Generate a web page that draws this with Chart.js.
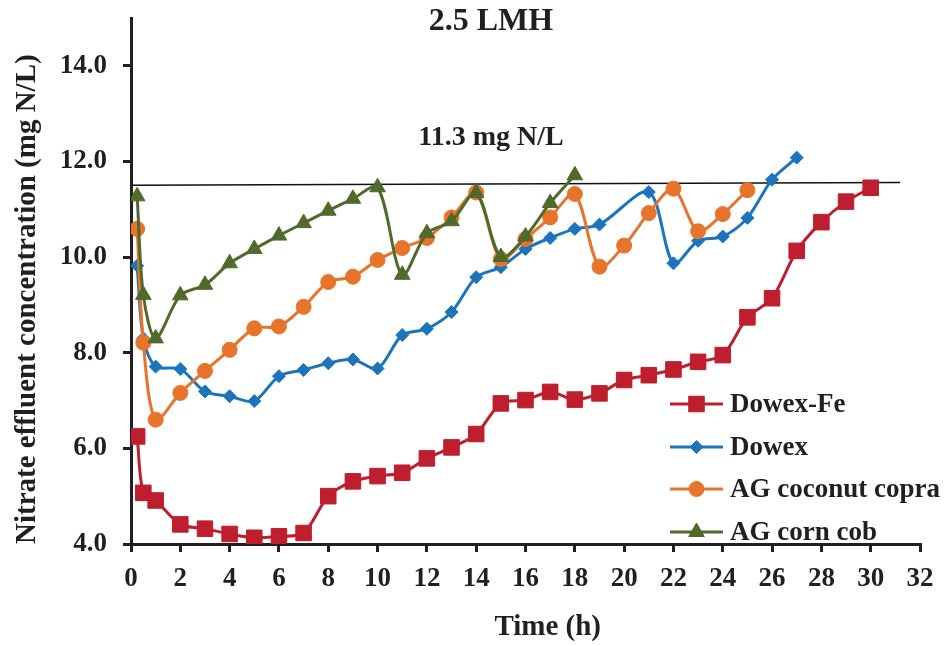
<!DOCTYPE html>
<html>
<head>
<meta charset="utf-8">
<title>2.5 LMH</title>
<script src="https://cdn.jsdelivr.net/npm/chart.js@4.4.1/dist/chart.umd.min.js"></script>
<style>
  html, body { margin: 0; padding: 0; background: #ffffff; }
  canvas { display: block; }
</style>
</head>
<body>
<canvas id="chart" width="949" height="646"></canvas>
<script>
// ---- Data (time in h, nitrate in mg N/L) ----
const timeDowexFe = [0.25, 0.5, 1, 2, 3, 4, 5, 6, 7, 8, 9, 10, 11, 12, 13, 14, 15, 16, 17, 18, 19, 20, 21, 22, 23, 24, 25, 26, 27, 28, 29, 30];
const dowexFe     = [6.25, 5.07, 4.91, 4.41, 4.32, 4.21, 4.13, 4.16, 4.23, 5.00, 5.31, 5.42, 5.49, 5.79, 6.02, 6.30, 6.94, 7.01, 7.18, 7.02, 7.15, 7.43, 7.53, 7.65, 7.81, 7.95, 8.74, 9.14, 10.13, 10.73, 11.16, 11.45];

const timeDowex = [0.25, 0.5, 1, 2, 3, 4, 5, 6, 7, 8, 9, 10, 11, 12, 13, 14, 15, 16, 17, 18, 19, 21, 22, 23, 24, 25, 26, 27];
const dowex     = [9.82, 8.30, 7.71, 7.66, 7.19, 7.09, 6.99, 7.51, 7.64, 7.78, 7.86, 7.67, 8.37, 8.50, 8.85, 9.58, 9.79, 10.17, 10.40, 10.59, 10.68, 11.36, 9.87, 10.34, 10.43, 10.82, 11.62, 12.08];

const timeCopra = [0.25, 0.5, 1, 2, 3, 4, 5, 6, 7, 8, 9, 10, 11, 12, 13, 14, 15, 16, 17, 18, 19, 20, 21, 22, 23, 24, 25];
const copra     = [10.59, 8.21, 6.60, 7.16, 7.62, 8.06, 8.51, 8.55, 8.96, 9.48, 9.59, 9.94, 10.19, 10.40, 10.83, 11.35, 9.96, 10.38, 10.83, 11.32, 9.80, 10.24, 10.92, 11.43, 10.54, 10.90, 11.40];

const timeCorn = [0.25, 0.5, 1, 2, 3, 4, 5, 6, 7, 8, 9, 10, 11, 12, 13, 14, 15, 16, 17, 18];
const cornCob  = [11.27, 9.21, 8.30, 9.20, 9.42, 9.87, 10.17, 10.45, 10.71, 10.97, 11.22, 11.46, 9.63, 10.50, 10.75, 11.34, 10.00, 10.43, 11.13, 11.71];

// Limit line endpoints
const limitX = [0, 31.2];
const limitY = [11.50, 11.56];

// Axis ticks and texts
const xTickValues = [0, 2, 4, 6, 8, 10, 12, 14, 16, 18, 20, 22, 24, 26, 28, 30, 32];
const yTickValues = [4, 6, 8, 10, 12, 14];
const chartTitle = '2.5 LMH';
const limitLabel = '11.3 mg N/L';
const xAxisTitle = 'Time (h)';
const yAxisTitle = 'Nitrate effluent concentration (mg N/L)';

// ---- Styling ----
const INK = '#231f20';
const SERIF = '"Liberation Serif", "Times New Roman", Times, serif';
const RED = '#be1e2d';
const BLUE = '#1c75bc';
const ORANGE = '#e8732a';
const GREEN = '#4f6a2b';

const toPoints = (xs, ys) => xs.map((x, i) => ({ x: x, y: ys[i] }));

Chart.defaults.font.family = SERIF;
Chart.defaults.font.weight = 'bold';
Chart.defaults.color = INK;

function series(label, xs, ys, color, style, radius, order) {
  return {
    label: label,
    data: toPoints(xs, ys),
    borderColor: color,
    backgroundColor: color,
    pointBackgroundColor: color,
    pointBorderColor: color,
    pointBorderWidth: 1,
    pointStyle: style,
    pointRadius: radius,
    pointHoverRadius: radius,
    borderWidth: 3,
    tension: 0.3,
    fill: false,
    order: order
  };
}

const datasets = [
  series('Dowex-Fe', timeDowexFe, dowexFe, RED, 'rect', 11, 3),
  series('Dowex', timeDowex, dowex, BLUE, 'rectRot', 6.5, 2),
  series('AG coconut copra', timeCopra, copra, ORANGE, 'circle', 7.5, 1),
  series('AG corn cob', timeCorn, cornCob, GREEN, 'triangle', 9, 0),
  {
    label: 'limit',
    data: toPoints(limitX, limitY),
    borderColor: '#111111',
    borderWidth: 1.5,
    pointRadius: 0,
    tension: 0,
    fill: false,
    order: 10
  }
];

// Title, limit label, x-axis title and the in-plot legend
const overlay = {
  id: 'overlay',
  afterDraw(chart) {
    const ctx = chart.ctx;
    const xs = chart.scales.x;
    const ys = chart.scales.y;
    ctx.save();
    ctx.fillStyle = INK;
    ctx.textAlign = 'center';
    ctx.textBaseline = 'middle';
    ctx.font = 'bold 32px ' + SERIF;
    ctx.fillText(chartTitle, xs.getPixelForValue(14.6), 22);
    ctx.font = 'bold 28px ' + SERIF;
    ctx.fillText(limitLabel, xs.getPixelForValue(14.6), ys.getPixelForValue(12.5));
    ctx.font = 'bold 29px ' + SERIF;
    ctx.fillText(xAxisTitle, xs.getPixelForValue(16.9), 628);

    // legend: line with marker, then label
    const rowX1 = 670, rowX2 = 723, textX = 730;
    const rowY = [404, 447, 489, 532];
    chart.data.datasets.slice(0, 4).forEach((ds, i) => {
      const y = rowY[i];
      ctx.strokeStyle = ds.borderColor;
      ctx.lineWidth = 3;
      ctx.beginPath();
      ctx.moveTo(rowX1, y);
      ctx.lineTo(rowX2, y);
      ctx.stroke();
      ctx.fillStyle = ds.pointBackgroundColor;
      ctx.strokeStyle = ds.pointBorderColor;
      ctx.lineWidth = 1;
      Chart.helpers.drawPoint(ctx, { pointStyle: ds.pointStyle, radius: ds.pointRadius, rotation: 0, borderWidth: 1 }, (rowX1 + rowX2) / 2, y);
      ctx.fillStyle = INK;
      ctx.textAlign = 'left';
      ctx.textBaseline = 'middle';
      ctx.font = 'bold 27px ' + SERIF;
      ctx.fillText(ds.label, textX, y + 1);
    });
    ctx.restore();
  }
};

new Chart(document.getElementById('chart'), {
  type: 'line',
  data: { datasets: datasets },
  plugins: [overlay],
  options: {
    responsive: false,
    animation: false,
    devicePixelRatio: 1,
    layout: { padding: { top: 18, right: 29, left: 0, bottom: 0 } },
    plugins: {
      legend: { display: false },
      tooltip: { enabled: false },
      title: { display: false }
    },
    scales: {
      x: {
        type: 'linear',
        min: 0,
        max: 32,
        afterBuildTicks(scale) { scale.ticks = xTickValues.map(v => ({ value: v })); },
        afterFit(scale) { scale.height = 102; scale.paddingLeft = 0; scale.paddingRight = 0; },
        ticks: {
          autoSkip: false,
          maxRotation: 0,
          padding: 11,
          color: INK,
          font: { size: 27, weight: 'bold' }
        },
        grid: {
          display: true,
          drawOnChartArea: false,
          drawTicks: true,
          tickLength: 8,
          color: INK,
          lineWidth: 3
        },
        border: { display: true, color: INK, width: 3 },
        title: { display: false }
      },
      y: {
        type: 'linear',
        min: 4,
        max: 15,
        afterBuildTicks(scale) { scale.ticks = yTickValues.map(v => ({ value: v })); },
        afterFit(scale) { scale.width = 131; scale.paddingTop = 0; scale.paddingBottom = 0; },
        ticks: {
          padding: 16,
          color: INK,
          font: { size: 27, weight: 'bold' },
          callback: v => Number(v).toFixed(1)
        },
        grid: {
          display: true,
          drawOnChartArea: false,
          drawTicks: true,
          tickLength: 8,
          color: INK,
          lineWidth: 3
        },
        border: { display: true, color: INK, width: 3 },
        title: {
          display: true,
          text: yAxisTitle,
          align: 'start',
          color: INK,
          font: { size: 29, weight: 'bold' },
          padding: { top: 10, bottom: 0 }
        }
      }
    }
  }
});
</script>
</body>
</html>
